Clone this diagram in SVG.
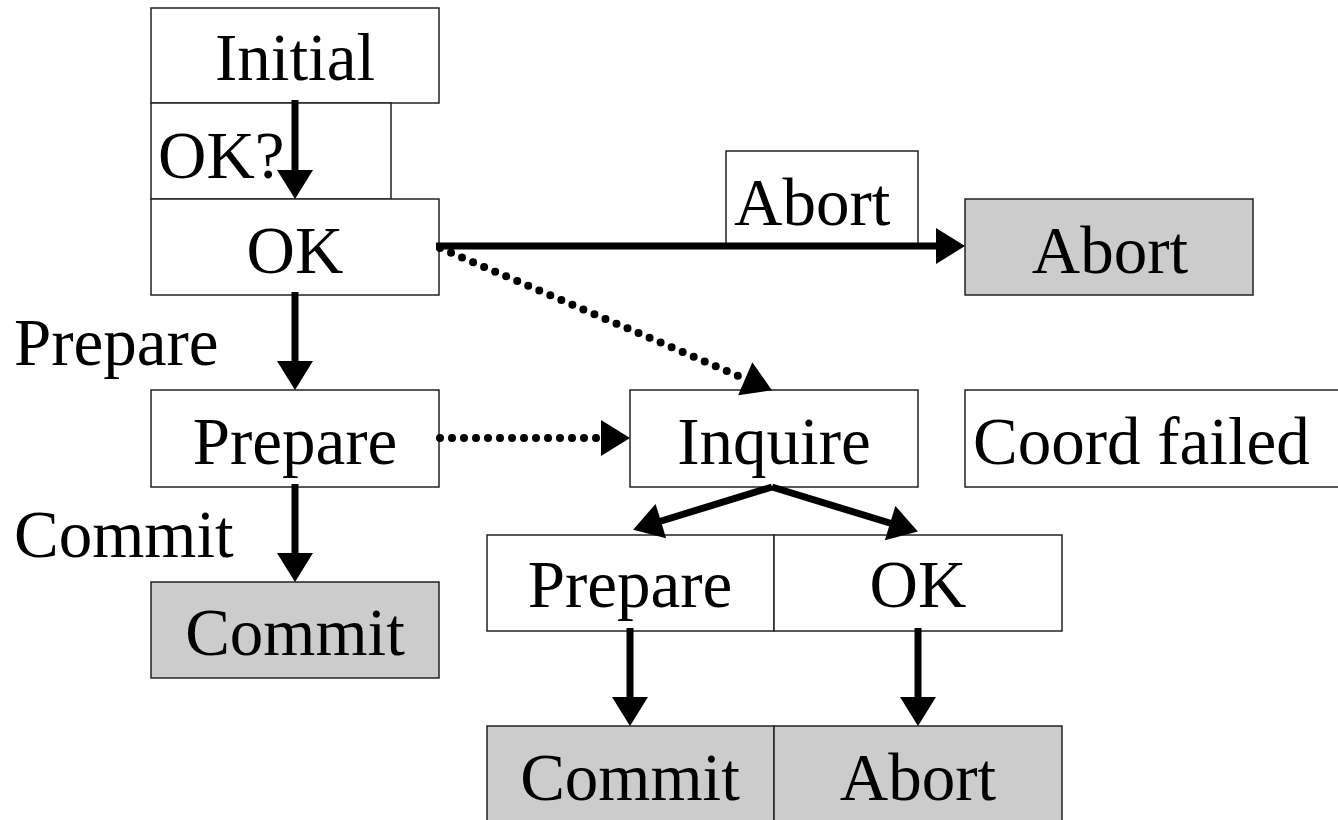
<svg xmlns="http://www.w3.org/2000/svg" width="1338" height="820" viewBox="0 0 1338 820">
<style>
.box{fill:#ffffff;stroke:#222;stroke-width:1.5}
.end{fill:#cccccc;stroke:#222;stroke-width:1.5}
.t{font-family:"Liberation Serif","Times New Roman",serif;font-size:67px;fill:#000}
.c{text-anchor:middle}
.solid{stroke:#000;stroke-width:7;fill:none;marker-end:url(#ah)}
.dot{stroke:#000;stroke-width:8;fill:none;stroke-dasharray:0 12;stroke-linecap:round;marker-end:url(#ah)}
</style>
<defs>
<marker id="ah" markerUnits="userSpaceOnUse" markerWidth="40" markerHeight="44" viewBox="0 -22 32 44" refX="3" refY="0" orient="auto">
<path d="M0,-18 L29,0 L0,18 Z" fill="#000"/>
</marker>
</defs>
<g id="n-initial"><rect class="box" x="151" y="8" width="288" height="95"/><text class="t c" x="295" y="80">Initial</text></g>
<g id="n-okq"><rect class="box" x="151" y="103" width="240" height="96"/><text class="t" x="158" y="178">OK?</text></g>
<g id="n-ok"><rect class="box" x="151" y="199" width="288" height="96"/><text class="t c" x="295" y="273">OK</text></g>
<g id="n-abortlabel"><rect class="box" x="726" y="151" width="192" height="96"/><text class="t" x="734" y="225">Abort</text></g>
<g id="n-abort"><rect class="end" x="965" y="199" width="288" height="96"/><text class="t c" x="1110" y="273">Abort</text></g>
<g id="l-prepare"><text class="t" x="14" y="365">Prepare</text></g>
<g id="n-prepare"><rect class="box" x="151" y="390" width="288" height="97"/><text class="t c" x="295" y="464">Prepare</text></g>
<g id="n-inquire"><rect class="box" x="630" y="390" width="288" height="97"/><text class="t c" x="774" y="464">Inquire</text></g>
<g id="n-coord"><rect class="box" x="965" y="390" width="380" height="97"/><text class="t" x="973" y="464">Coord failed</text></g>
<g id="l-commit"><text class="t" x="14" y="557">Commit</text></g>
<g id="n-commit"><rect class="end" x="151" y="582" width="288" height="96"/><text class="t c" x="295" y="655">Commit</text></g>
<g id="n-prepare2"><rect class="box" x="487" y="535" width="287" height="96"/><text class="t c" x="630" y="607">Prepare</text></g>
<g id="n-ok2"><rect class="box" x="774" y="535" width="288" height="96"/><text class="t c" x="918" y="607">OK</text></g>
<g id="n-commit2"><rect class="end" x="487" y="726" width="287" height="100"/><text class="t c" x="630" y="800">Commit</text></g>
<g id="n-abort2"><rect class="end" x="774" y="726" width="288" height="100"/><text class="t c" x="918" y="800">Abort</text></g>
<g id="connectors">
<line class="solid" x1="295" y1="100" x2="295" y2="173"/>
<line class="solid" x1="295" y1="292" x2="295" y2="364"/>
<line class="solid" x1="295" y1="484" x2="295" y2="556"/>
<line class="solid" x1="436" y1="246" x2="939" y2="246"/>
<line class="dot" x1="440" y1="248" x2="748" y2="380"/>
<line class="dot" x1="440" y1="438" x2="604" y2="438"/>
<line class="solid" x1="772" y1="487" x2="658" y2="522"/>
<line class="solid" x1="772" y1="487" x2="893" y2="524"/>
<line class="solid" x1="630" y1="628" x2="630" y2="700"/>
<line class="solid" x1="918" y1="628" x2="918" y2="700"/>
</g>
</svg>
